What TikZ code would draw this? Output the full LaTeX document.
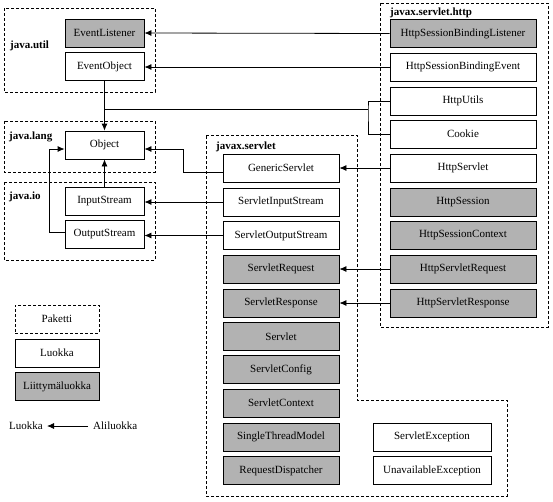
\documentclass[tikz,border=0pt]{standalone}
\usepackage{fontspec}
\setmainfont{Liberation Serif}
\usetikzlibrary{arrows.meta}

\definecolor{ifgray}{RGB}{178,178,178}

\begin{document}
\begin{tikzpicture}[x=1pt,y=-1pt,
	every node/.style={font=\fontsize{11}{13}\selectfont},
	luokka/.style={draw,line width=.8pt,fill=white,inner sep=0pt,minimum height=28pt},
	liitt/.style={luokka,fill=ifgray},
	paketti/.style={draw,line width=.8pt,dash pattern=on 3pt off 2pt},
	pnimi/.style={anchor=west,inner sep=1pt,font=\fontsize{11}{13}\selectfont\bfseries},
	peri/.style={line width=.8pt,-{Latex[length=7pt,width=6pt]}},
	viiva/.style={line width=.8pt}]
	\useasboundingbox (0,0) rectangle (553,501);
	%\draw[gray] (0,0) grid[step=50] (553,501);
	% paketit
	\draw[paketti] (4,8) rectangle (155,92);
	\draw[paketti] (4,121) rectangle (155,172);
	\draw[paketti] (4,182) rectangle (155,260);
	\draw[paketti] (380,3) rectangle (548,327);
	\draw[paketti] (206,135) -- (357,135) -- (357,400) -- (507,400) -- (507,496) -- (206,496) -- cycle;
	\node[pnimi] at (9,46) {java.util};
	\node[pnimi] at (8,137) {java.lang};
	\node[pnimi] at (8,197) {java.io};
	\node[pnimi] at (215,147) {javax.servlet};
	\node[pnimi] at (389,13) {javax.servlet.http};
	% java.util, java.lang, java.io
	\node[liitt,minimum width=79pt] (elis) at (104.5,33) {EventListener};
	\node[luokka,minimum width=79pt] (eobj) at (104.5,66.5) {EventObject};
	\node[luokka,minimum width=79pt] (obj) at (104.5,145) {Object};
	\node[luokka,minimum width=79pt] (istr) at (104.5,201.5) {InputStream};
	\node[luokka,minimum width=79pt] (ostr) at (104.5,234.5) {OutputStream};
	% javax.servlet
	\node[luokka,minimum width=116pt] (gsrv) at (281,168) {GenericServlet};
	\node[luokka,minimum width=116pt] (sis) at (281,202) {ServletInputStream};
	\node[luokka,minimum width=116pt] (sos) at (281,235.5) {ServletOutputStream};
	\node[liitt,minimum width=116pt] (sreq) at (281,269) {ServletRequest};
	\node[liitt,minimum width=116pt] (sres) at (281,303) {ServletResponse};
	\node[liitt,minimum width=116pt] (srv) at (281,336.5) {Servlet};
	\node[liitt,minimum width=116pt] (scfg) at (281,369.5) {ServletConfig};
	\node[liitt,minimum width=116pt] (sctx) at (281,403) {ServletContext};
	\node[liitt,minimum width=116pt] (stm) at (281,437) {SingleThreadModel};
	\node[liitt,minimum width=116pt] (rdis) at (281,470.5) {RequestDispatcher};
	\node[luokka,minimum width=118pt] (sexc) at (432,437) {ServletException};
	\node[luokka,minimum width=118pt] (uexc) at (432,470.5) {UnavailableException};
	% javax.servlet.http
	\node[liitt,minimum width=146pt] (hsbl) at (463,33.5) {HttpSessionBindingListener};
	\node[luokka,minimum width=146pt] (hsbe) at (463,67) {HttpSessionBindingEvent};
	\node[luokka,minimum width=146pt] (hutl) at (463,101) {HttpUtils};
	\node[luokka,minimum width=146pt] (ckie) at (463,134) {Cookie};
	\node[luokka,minimum width=146pt] (hsrv) at (463,168) {HttpServlet};
	\node[liitt,minimum width=146pt] (hses) at (463,202) {HttpSession};
	\node[liitt,minimum width=146pt] (hctx) at (463,235.5) {HttpSessionContext};
	\node[liitt,minimum width=146pt] (hreq) at (463,269) {HttpServletRequest};
	\node[liitt,minimum width=146pt] (hres) at (463,303) {HttpServletResponse};
	% selitteet
	\node[paketti,inner sep=0pt,minimum width=84pt,minimum height=28pt] (pak) at (57,319) {Paketti};
	\node[luokka,minimum width=84pt] (luo) at (57,353) {Luokka};
	\node[liitt,minimum width=84pt] (lii) at (57,386.5) {Liittymäluokka};
	\node[anchor=east,inner sep=4pt] (sluo) at (47,426) {Luokka};
	\node[anchor=west,inner sep=5pt] (sali) at (88,426) {Aliluokka};
	\draw[peri] (sali.west) -- (sluo.east);
	% periytymiset
	\draw[peri] (hsbl.west) -- (elis.east);
	\draw[peri] (hsbe.west) -- (eobj.east |- hsbe.west);
	\draw[peri] (eobj.south) -- (obj.north);
	\coordinate (haara) at (368,109);
	\draw[viiva] (hutl.west) -| (haara) |- (ckie.west);
	\draw[viiva] (haara) -- (haara -| eobj.south);
	\draw[peri] ([yshift=-4pt]gsrv.west) -| ([xshift=39pt,yshift=-4pt]obj.east) -- ([yshift=-4pt]obj.east);
	\draw[peri] (istr.north) -- (obj.south);
	\draw[peri] ([yshift=2pt]ostr.west) -| ([xshift=-15pt,yshift=-4pt]obj.west) -- ([yshift=-4pt]obj.west);
	\draw[peri] (sis.west) -- (sis.west -| istr.east);
	\draw[peri] (sos.west) -- (sos.west -| ostr.east);
	\draw[peri] (hsrv.west) -- (gsrv.east);
	\draw[peri] (hreq.west) -- (sreq.east);
	\draw[peri] (hres.west) -- (sres.east);
\end{tikzpicture}
\end{document}
